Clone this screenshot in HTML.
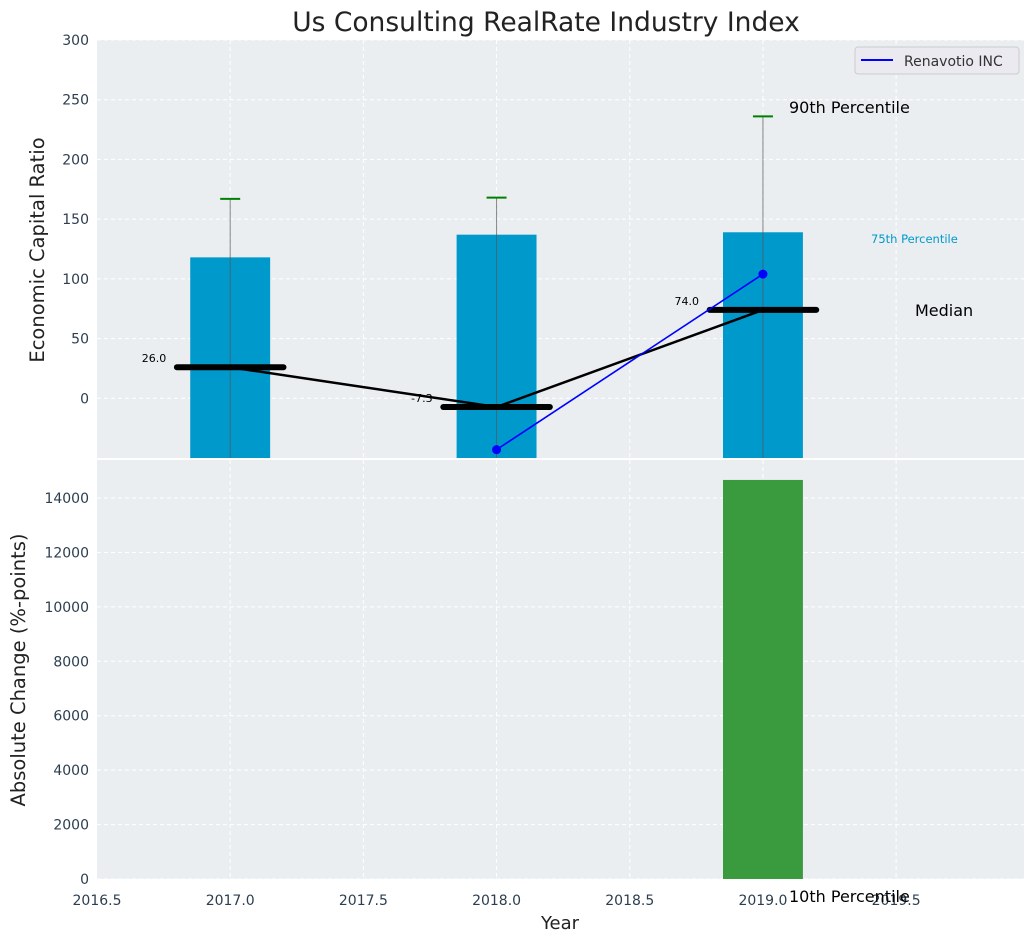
<!DOCTYPE html>
<html><head><meta charset="utf-8"><style>
body{margin:0;background:#fff;}
svg{display:block;font-family:"DejaVu Sans","Liberation Sans",sans-serif;}
</style></head><body>
<svg id="c" width="1035" height="942" xmlns="http://www.w3.org/2000/svg"></svg>
<script>
const years=[2017,2018,2019];
const p75=[118,137,139];
const p90=[167,168,236];
const p10=[-120,-120,-120];
const medians=[26.0,-7.3,74.0];
const companyYears=[2018,2019];
const companyVals=[-43,104];
const changeYears=[2019];
const changeVals=[14665];
const xTicks=[2016.5,2017.0,2017.5,2018.0,2018.5,2019.0,2019.5];
const yTopTicks=[0,50,100,150,200,250,300];
const yBotTicks=[0,2000,4000,6000,8000,10000,12000,14000];

const NS="http://www.w3.org/2000/svg";
const svg=document.getElementById('c');
function el(t,a,p){const e=document.createElementNS(NS,t);for(const k in a)e.setAttribute(k,a[k]);(p||svg).appendChild(e);return e;}
const L=97,R=1024;
const x=v=>L+(v-2016.5)/(2019.98-2016.5)*(R-L);
const T0=40,T1=458, yt=v=>T1-(v+50)/350*(T1-T0);
const B0=460,B1=879, yb=v=>B1-v/15398*(B1-B0);
const bg='#eaeef0';
let r=el('rect',{x:L,y:T0,width:R-L,height:T1-T0,fill:bg});

r=el('rect',{x:L,y:B0,width:R-L,height:B1-B0,fill:bg});

const defs=el('defs',{});
const cp=el('clipPath',{id:'ct'},defs);el('rect',{x:L,y:T0,width:R-L,height:T1-T0},cp);
const cb=el('clipPath',{id:'cb'},defs);el('rect',{x:L,y:B0,width:R-L,height:B1-B0},cb);
xTicks.forEach(v=>{
 if(v===2016.5)return;
 el('line',{x1:x(v),x2:x(v),y1:T0,y2:T1,stroke:'#fff','stroke-dasharray':'4,3','stroke-width':1});
 el('line',{x1:x(v),x2:x(v),y1:B0,y2:B1,stroke:'#fff','stroke-dasharray':'4,3','stroke-width':1});
});
yTopTicks.forEach(v=>{el('line',{x1:L,x2:R,y1:yt(v),y2:yt(v),stroke:'#fff','stroke-dasharray':'4,3'});
 const t=el('text',{x:L-8,y:yt(v)+5,'text-anchor':'end','font-size':14,fill:'#2c3e50'});t.textContent=v;
 });
yBotTicks.forEach(v=>{el('line',{x1:L,x2:R,y1:yb(v),y2:yb(v),stroke:'#fff','stroke-dasharray':'4,3'});
 const t=el('text',{x:L-8,y:yb(v)+5,'text-anchor':'end','font-size':14,fill:'#2c3e50'});t.textContent=v;
 });
xTicks.forEach(v=>{const t=el('text',{x:x(v),y:905,'text-anchor':'middle','font-size':14,fill:'#2c3e50'});t.textContent=v.toFixed(1);
 });
const gt=el('g',{'clip-path':'url(#ct)'});
const bw=(x(2017.15)-x(2016.85));
years.forEach((yr,i)=>{
 const b=el('rect',{x:x(yr)-bw/2,y:yt(p75[i]),width:bw,height:yt(-50)-yt(p75[i]),fill:'#0099cc'},gt);
 
 const w=el('line',{x1:x(yr),x2:x(yr),y1:yt(p90[i]),y2:yt(p10[i]),stroke:'#555','stroke-opacity':0.7,'stroke-width':1},gt);
 
 const c=el('line',{x1:x(yr)-10,x2:x(yr)+10,y1:yt(p90[i]),y2:yt(p90[i]),stroke:'green','stroke-width':2},gt);
 
});
const ml=el('polyline',{points:years.map((y,i)=>x(y)+','+yt(medians[i])).join(' '),fill:'none',stroke:'#000','stroke-width':2.5},gt);

years.forEach((yr,i)=>{
 const m=el('line',{x1:x(yr-0.2),x2:x(yr+0.2),y1:yt(medians[i]),y2:yt(medians[i]),stroke:'#000','stroke-width':6,'stroke-linecap':'round'},gt);
 
 const t=el('text',{x:x(yr-0.24),y:yt(medians[i])-5,'text-anchor':'end','font-size':11,fill:'#000'});t.textContent=medians[i].toFixed(1);
 
});
const cl=el('polyline',{points:companyYears.map((y,i)=>x(y)+','+yt(companyVals[i])).join(' '),fill:'none',stroke:'blue','stroke-width':1.6},gt);

companyYears.forEach((y,i)=>{const d=el('circle',{cx:x(y),cy:yt(companyVals[i]),r:4.5,fill:'blue'},gt);
 });
const gb=el('g',{'clip-path':'url(#cb)'});
changeYears.forEach((y,i)=>{const b=el('rect',{x:x(y)-bw/2,y:yb(changeVals[i]),width:bw,height:B1-yb(changeVals[i]),fill:'#3a9a3e'},gb);
 });
function txt(s,a,n){const t=el('text',a);t.textContent=s;return t;}
txt('90th Percentile',{x:789,y:113,'font-size':16,fill:'#000'},'p90-annotation');
txt('75th Percentile',{x:871,y:243,'font-size':11.5,fill:'#0099cc'},'p75-annotation');
txt('Median',{x:915,y:316,'font-size':16,fill:'#000'},'median-annotation');
txt('10th Percentile',{x:789,y:902,'font-size':16,fill:'#000'},'p10-annotation');
txt('Us Consulting RealRate Industry Index',{x:546,y:31,'font-size':26.5,'text-anchor':'middle',fill:'#222'},'chart-title');
txt('Year',{x:560,y:929,'font-size':18,'text-anchor':'middle',fill:'#222'},'x-axis-title');
txt('Economic Capital Ratio',{x:0,y:0,'font-size':19.5,'text-anchor':'middle',fill:'#222',transform:'translate(44,250) rotate(-90)'},'y-top-axis-title');
txt('Absolute Change (%-points)',{x:0,y:0,'font-size':19.5,'text-anchor':'middle',fill:'#222',transform:'translate(25,670) rotate(-90)'},'y-bottom-axis-title');
const lg=el('g',{});
el('rect',{x:855,y:47,width:164,height:27,rx:3,fill:'#eaeaf0',stroke:'#ccc'},lg);
el('line',{x1:861,x2:893,y1:60,y2:60,stroke:'blue','stroke-width':2},lg);
const lt=el('text',{x:904,y:66,'font-size':14,fill:'#333'},lg);lt.textContent='Renavotio INC';
</script>
</body></html>
